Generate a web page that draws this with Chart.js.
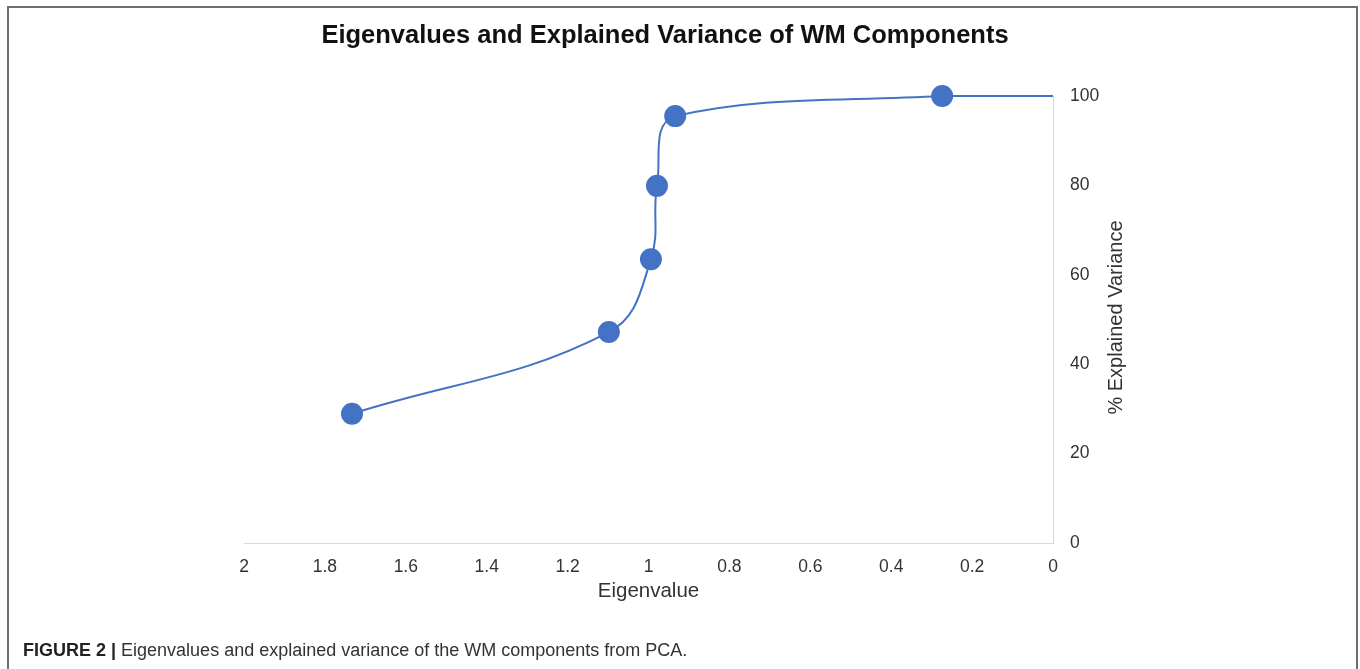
<!DOCTYPE html>
<html>
<head>
<meta charset="utf-8">
<script src="https://cdn.jsdelivr.net/npm/chart.js@4.4.1/dist/chart.umd.min.js"></script>
<style>
  html, body { margin: 0; padding: 0; background: #fff; }
  body { width: 1360px; height: 669px; position: relative; overflow: hidden; font-family: "Liberation Sans", Arial, sans-serif; }
  #frame { position: absolute; left: 7px; top: 6px; width: 1347px; height: 700px; border: 2px solid #6e6e6e; border-bottom: none; pointer-events: none; }
  #wrap { position: absolute; left: 0; top: 0; width: 1360px; height: 620px; }
  #caption { position: absolute; left: 23px; top: 640px; font-size: 18px; color: #333; white-space: nowrap; }
  #caption b { color: #222; }
</style>
</head>
<body>
<div id="wrap"><canvas id="pcaChart"></canvas></div>
<div id="frame"></div>
<div id="caption"><b>FIGURE 2 |</b> Eigenvalues and explained variance of the WM components from PCA.</div>
<script>
// values
const eigenvalues = [1.733, 1.098, 0.994, 0.979, 0.934, 0.274, 0];
const explainedVariance = [28.9, 47.2, 63.5, 79.9, 95.5, 100, 100];
const markerSizes = [10, 10, 10, 10, 10, 10, 0];
const xTicks = [0, 0.2, 0.4, 0.6, 0.8, 1, 1.2, 1.4, 1.6, 1.8, 2];
const yTicks = [0, 20, 40, 60, 80, 100];

const blue = '#4472C4';
const tickColor = '#333';
const axisColor = '#d9d9d9';
const fontFamily = '"Liberation Sans", Arial, sans-serif';

const points = eigenvalues.map((e, i) => ({x: e, y: explainedVariance[i]}));

// main title sits left of the canvas centre, and the right axis title
// reads bottom to top, so both are drawn here
const textPlugin = {
  id: 'figText',
  afterDraw(chart) {
    const ctx = chart.ctx;
    const area = chart.chartArea;
    ctx.save();
    ctx.textAlign = 'center';
    ctx.textBaseline = 'middle';
    ctx.fillStyle = '#111';
    ctx.font = 'bold 25.5px ' + fontFamily;
    ctx.fillText('Eigenvalues and Explained Variance of WM Components', 665, 36);
    ctx.translate(1116, (area.top + area.bottom) / 2 - 2);
    ctx.rotate(-Math.PI / 2);
    ctx.font = '20px ' + fontFamily;
    ctx.fillStyle = tickColor;
    ctx.fillText('% Explained Variance', 0, 0);
    ctx.restore();
  }
};

let config = {
  type: 'scatter',
  data: {
    datasets: [{
      label: '% Explained Variance',
      data: points,
      showLine: true,
      tension: 0.4,
      borderColor: blue,
      borderWidth: 2,
      backgroundColor: blue,
      pointBackgroundColor: blue,
      pointBorderColor: blue,
      pointRadius: markerSizes,
      pointHoverRadius: markerSizes,
      clip: false
    }]
  },
  options: {
    responsive: false,
    animation: false,
    layout: {
      padding: {left: 244, right: 247, top: 96, bottom: 16}
    },
    plugins: {
      legend: {display: false},
      tooltip: {enabled: false},
      title: {display: false}
    },
    scales: {
      x: {
        type: 'linear',
        reverse: true,
        min: 0,
        max: 2,
        afterBuildTicks: (scale) => { scale.ticks = xTicks.map(v => ({value: v})); },
        afterFit: (scale) => { scale.height = 61; },
        grid: {display: false},
        border: {display: true, color: axisColor, width: 1},
        ticks: {
          color: tickColor,
          padding: 6,
          maxRotation: 0,
          callback: (v) => String(Math.round(v * 10) / 10),
          font: {family: fontFamily, size: 17.5}
        },
        title: {
          display: true,
          text: 'Eigenvalue',
          color: tickColor,
          font: {family: fontFamily, size: 20.5},
          padding: {top: 2, bottom: 0}
        }
      },
      y: {
        type: 'linear',
        position: 'right',
        min: 0,
        max: 100,
        afterBuildTicks: (scale) => { scale.ticks = yTicks.map(v => ({value: v})); },
        afterFit: (scale) => { scale.width = 60; },
        grid: {display: false},
        border: {display: true, color: axisColor, width: 1},
        ticks: {
          color: tickColor,
          padding: 9,
          font: {family: fontFamily, size: 17.5}
        }
      }
    }
  },
  plugins: [textPlugin]
};

const canvas = document.getElementById('pcaChart');
canvas.width = 1360;
canvas.height = 620;
let pcaChart = new Chart(canvas, config);
</script>
</body>
</html>
